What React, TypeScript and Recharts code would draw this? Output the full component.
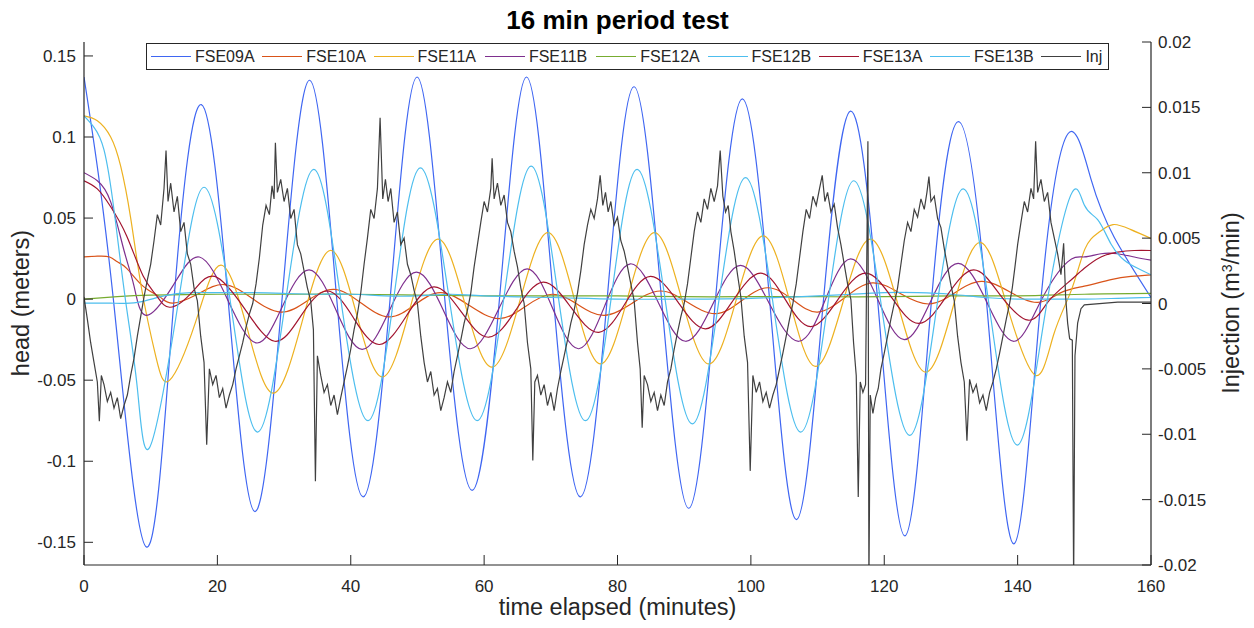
import React from "react";
import { LineChart, Line, XAxis, YAxis, Legend } from "recharts";

const FONT = "'Liberation Sans', Arial, Helvetica, sans-serif";
const AXIS_COLOR = "#262626";

const TIME_TICKS = [0, 20, 40, 60, 80, 100, 120, 140, 160];
const HEAD_TICKS = [-0.15, -0.1, -0.05, 0, 0.05, 0.1, 0.15];
const INJ_TICKS = [-0.02, -0.015, -0.01, -0.005, 0, 0.005, 0.01, 0.015, 0.02];

type Pt = [number, number];

// [time (min), head (m)]
const FSE09A: Pt[] = [
  [0, 0.137], [4.4, 0], [9.4, -0.153], [13.5, 0], [17.6, 0.12], [21.6, 0], [25.6, -0.131], [29.7, 0],
  [33.85, 0.135], [37.9, 0], [41.85, -0.122], [45.9, 0], [49.95, 0.137], [54.1, 0], [58.2, -0.118], [62.3, 0],
  [66.35, 0.137], [70.4, 0], [74.45, -0.122], [78.45, 0], [82.45, 0.131], [86.6, 0], [90.7, -0.129], [94.7, 0],
  [98.7, 0.1235], [102.8, 0], [106.85, -0.136], [110.9, 0], [114.95, 0.116], [119, 0], [123.1, -0.146], [127.1, 0],
  [131.1, 0.1095], [135.3, 0], [139.45, -0.151], [143.5, 0], [147.55, 0.102], [151, 0.074], [154.5, 0.038],
  [160, 0.001],
];

const FSE10A: Pt[] = [
  [0, 0.026], [2, 0.0265], [3.85, 0.026], [5, 0.023], [6.4, 0.019], [8.85, 0.008], [11.35, 0.0014], [13.3, -0.0025],
  [17, 0.003], [21, 0.009], [25.2, 0.0005], [29.5, -0.008], [33.5, -0.001], [37.5, 0.006], [41.6, -0.0025],
  [45.7, -0.011], [49.6, -0.0035], [53.5, 0.004], [57.8, -0.004], [62.2, -0.012], [66.2, -0.0045], [70.2, 0.003],
  [74.1, -0.0035], [78, -0.01], [82.2, -0.0025], [86.4, 0.005], [90.5, -0.002], [94.7, -0.009], [98.6, -0.001],
  [102.5, 0.007], [106.3, -0.0005], [110, -0.008], [114.1, 0.001], [118.2, 0.01], [122.4, 0.0035], [126.7, -0.003],
  [130.6, 0.004], [134.6, 0.011], [138.8, 0.0045], [143, -0.002], [146.5, 0.004], [150, 0.008], [154, 0.012],
  [157, 0.014], [160, 0.015],
];

const FSE11A: Pt[] = [
  [0, 0.113], [2, 0.11], [4, 0.1], [5.5, 0.082], [7, 0.05], [8.7, 0.005], [10.8, -0.036], [12.85, -0.05],
  [16.7, -0.0145], [20.55, 0.021], [24.5, -0.0185], [28.45, -0.058], [32.7, -0.014], [36.9, 0.03], [40.85, -0.009],
  [44.8, -0.048], [48.9, -0.0055], [53.05, 0.037], [57.1, -0.0025], [61.2, -0.042], [65.4, -0.0005], [69.55, 0.041],
  [73.5, 0.0005], [77.45, -0.04], [81.5, 0.0005], [85.55, 0.041], [89.6, 0.0005], [93.7, -0.04], [97.8, -0.0005],
  [101.85, 0.039], [105.8, -0.001], [109.7, -0.0415], [113.8, -0.002], [117.95, 0.037], [122.1, -0.004],
  [126.2, -0.045], [130.3, -0.005], [134.4, 0.035], [138.55, -0.006], [142.7, -0.047], [145.4, -0.022],
  [148.1, 0.006], [150.1, 0.031], [152.1, 0.041], [154.3, 0.046], [156.9, 0.043], [160, 0.0375],
];

const FSE11B: Pt[] = [
  [0, 0.078], [2, 0.073], [4, 0.06], [6, 0.03], [7.5, 0.008], [9.3, -0.01], [13.3, 0.008], [17.3, 0.026],
  [21.5, 0], [25.8, -0.027], [29.7, -0.005], [33.75, 0.018], [37.7, -0.006], [41.7, -0.031], [45.8, -0.007],
  [49.85, 0.0166], [53.9, -0.007], [57.95, -0.0306], [62.2, -0.006], [66.45, 0.0187], [70.3, -0.006],
  [74.2, -0.0306], [78.1, -0.004], [81.95, 0.0218], [86.1, -0.002], [90.2, -0.026], [94.3, -0.003],
  [98.45, 0.0208], [102.8, -0.003], [107.2, -0.026], [111.1, -0.001], [114.95, 0.0248], [119, 0], [123, -0.025],
  [127, -0.001], [131.1, 0.022], [135.4, -0.002], [139.5, -0.026], [143.5, -0.001], [147.5, 0.023], [150, 0.026],
  [152.5, 0.028], [155, 0.028], [157.5, 0.026], [160, 0.024],
];

const FSE12A: Pt[] = [
  [0, 0], [5, 0.0015], [10, 0.0025], [20, 0.003], [30, 0.003], [40, 0.003], [50, 0.0025], [60, 0.002], [70, 0.002],
  [80, 0.002], [90, 0.0015], [100, 0.0015], [110, 0.0015], [120, 0.0015], [130, 0.002], [140, 0.002], [150, 0.003],
  [160, 0.0035],
];

const FSE12B: Pt[] = [
  [0, -0.0025], [4, -0.0025], [8, -0.002], [12, 0.002], [16, 0.004], [20, 0.004], [25, 0.004], [30, 0.0035],
  [35, 0.003], [40, 0.003], [45, 0.002], [50, 0.002], [55, 0.003], [60, 0.002], [70, 0.001], [80, 0], [90, 0],
  [100, 0.0005], [110, 0.002], [115, 0.003], [120, 0.004], [125, 0.004], [130, 0.003], [135, 0.001], [140, 0],
  [145, 0], [150, 0], [155, 0.0005], [160, 0.001],
];

const FSE13A: Pt[] = [
  [0, 0.073], [2, 0.068], [4, 0.057], [6.4, 0.039], [8.85, 0.0144], [10.9, 0.002], [12.9, -0.005], [16.25, 0.0045],
  [19.6, 0.014], [24.1, -0.006], [28.6, -0.026], [32.5, -0.0105], [36.5, 0.005], [40.4, -0.0115], [44.3, -0.028],
  [48.4, -0.01], [52.45, 0.0075], [56.6, -0.008], [60.7, -0.0235], [64.8, -0.0065], [68.85, 0.0105], [73, -0.005],
  [77.2, -0.0205], [81.1, -0.003], [84.95, 0.014], [89.1, -0.002], [93.2, -0.0183], [97.3, -0.001], [101.45, 0.016],
  [105.2, -0.0005], [109, -0.017], [113.1, 0], [117.2, 0.016], [121.2, 0.0005], [125.2, -0.015], [129.3, 0.0015],
  [133.4, 0.018], [137.4, 0.0025], [141.6, -0.013], [144.5, -0.002], [147.5, 0.01], [150, 0.019], [152.5, 0.026],
  [155, 0.029], [157.5, 0.03], [160, 0.03],
];

const FSE13B: Pt[] = [
  [0, 0.113], [1.5, 0.106], [3, 0.092], [4.5, 0.055], [6.2, 0], [8, -0.055], [9.9, -0.091], [14.1, -0.003],
  [18, 0.069], [22, -0.003], [26, -0.082], [30.2, -0.002], [34.45, 0.08], [38.5, 0], [42.6, -0.075], [46.5, 0.002],
  [50.45, 0.081], [54.7, 0.002], [58.95, -0.075], [63, 0.002], [67.05, 0.082], [71.1, 0.002], [75.2, -0.075],
  [79.1, 0.002], [82.95, 0.08], [87.1, 0.001], [91.2, -0.077], [95.2, -0.001], [99.2, 0.075], [103.3, -0.002],
  [107.45, -0.082], [111.5, -0.004], [115.45, 0.073], [119.6, -0.005], [123.8, -0.084], [127.8, -0.007],
  [131.85, 0.068], [135.9, -0.009], [139.95, -0.09], [144, -0.012], [147.95, 0.064], [150, 0.058], [152, 0.049],
  [154, 0.034], [156, 0.024], [158, 0.019], [160, 0.015],
];

// [time (min), injection (m^3/min)]
const INJ: Pt[] = [
  [0, 0.0005], [0.5, -0.0012], [1, -0.003], [1.5, -0.0045], [2, -0.006], [2.3, -0.009], [2.6, -0.0055], [3, -0.0062],
  [3.5, -0.0075], [4, -0.0068], [4.5, -0.008], [5, -0.0072], [5.5, -0.0088], [6, -0.0078], [6.5, -0.007],
  [7, -0.0055], [7.5, -0.0042], [8, -0.0025], [8.5, -0.001],
  [9, 0.0005], [9.5, 0.0018], [10, 0.003], [10.5, 0.0048], [11, 0.0068], [11.5, 0.006], [12, 0.0088],
  [12.3, 0.0117], [12.6, 0.0078], [13, 0.0092], [13.5, 0.007], [14, 0.0082], [14.5, 0.0055], [15, 0.0062],
  [15.5, 0.0038], [16, 0.003], [16.5, 0.0012], [17, 0.0002],
  [17.5, -0.0025], [18, -0.0045], [18.4, -0.0108], [18.8, -0.005], [19.3, -0.0062], [19.8, -0.0055],
  [20.3, -0.0072], [20.8, -0.0065], [21.3, -0.008], [21.8, -0.007], [22.3, -0.0062], [22.8, -0.005],
  [23.3, -0.004], [23.8, -0.003], [24.3, -0.0018], [24.8, -0.0008], [25.3, 0],
  [25.8, 0.0015], [26.3, 0.0035], [26.8, 0.006], [27.3, 0.0075], [27.8, 0.0068], [28.2, 0.009], [28.5, 0.008],
  [28.7, 0.0123], [29, 0.0085], [29.5, 0.0095], [30, 0.0078], [30.5, 0.0088], [31, 0.0065], [31.5, 0.0072],
  [32, 0.0045], [32.5, 0.0038], [33, 0.0025], [33.5, 0.0012], [34, 0.0002],
  [34.4, -0.002], [34.7, -0.0136], [35, -0.004], [35.5, -0.0055], [36, -0.0068], [36.5, -0.0062], [37, -0.0078],
  [37.5, -0.007], [38, -0.0085], [38.5, -0.0072], [39, -0.006], [39.5, -0.0048], [40, -0.0035], [40.5, -0.002],
  [41, -0.0008],
  [41.5, 0.0008], [42, 0.003], [42.5, 0.005], [43, 0.0072], [43.5, 0.0065], [44, 0.0088], [44.4, 0.0142],
  [44.8, 0.008], [45.2, 0.0095], [45.6, 0.0078], [46, 0.0088], [46.5, 0.0062], [47, 0.007], [47.5, 0.0045],
  [48, 0.005], [48.5, 0.003], [49, 0.0022], [49.5, 0.001], [50, 0],
  [50.5, -0.0025], [51, -0.0045], [51.5, -0.006], [52, -0.0052], [52.5, -0.007], [53, -0.0065], [53.5, -0.0082],
  [54, -0.0072], [54.5, -0.006], [55, -0.0068], [55.5, -0.0052], [56, -0.004], [56.5, -0.0028], [57, -0.0015],
  [57.5, -0.0005],
  [58, 0.0008], [58.5, 0.0028], [59, 0.0045], [59.5, 0.0062], [60, 0.0078], [60.5, 0.007], [61, 0.0088],
  [61.2, 0.0111], [61.5, 0.008], [62, 0.0092], [62.5, 0.0075], [63, 0.0083], [63.5, 0.0062], [64, 0.0055],
  [64.5, 0.004], [65, 0.0028], [65.5, 0.0012], [66, 0],
  [66.5, -0.003], [67, -0.005], [67.3, -0.012], [67.6, -0.006], [68, -0.0055], [68.5, -0.007], [69, -0.0062],
  [69.5, -0.0078], [70, -0.0068], [70.5, -0.0082], [71, -0.0065], [71.5, -0.0052], [72, -0.004], [72.5, -0.0028],
  [73, -0.0015], [73.5, -0.0005],
  [74, 0.0008], [74.5, 0.0025], [75, 0.0045], [75.5, 0.006], [76, 0.0072], [76.5, 0.0065], [77, 0.008],
  [77.4, 0.0098], [77.8, 0.0075], [78.2, 0.0085], [78.6, 0.007], [79, 0.0078], [79.5, 0.006], [80, 0.0066],
  [80.5, 0.0048], [81, 0.004], [81.5, 0.0028], [82, 0.0015], [82.5, 0.0002],
  [83, -0.003], [83.4, -0.005], [83.7, -0.0095], [84, -0.0055], [84.5, -0.0062], [85, -0.0075], [85.5, -0.0068],
  [86, -0.0082], [86.5, -0.007], [87, -0.0078], [87.5, -0.006], [88, -0.005], [88.5, -0.0035], [89, -0.0022],
  [89.5, -0.001], [90, 0],
  [90.5, 0.0015], [91, 0.0035], [91.5, 0.0055], [92, 0.007], [92.5, 0.0062], [93, 0.008], [93.5, 0.0072],
  [94, 0.0088], [94.5, 0.0078], [95, 0.009], [95.4, 0.0117], [95.8, 0.0082], [96.2, 0.007], [96.6, 0.0075],
  [97, 0.0055], [97.5, 0.004], [98, 0.0022], [98.5, 0.0005],
  [99, -0.0025], [99.5, -0.0045], [99.9, -0.0128], [100.3, -0.0055], [100.8, -0.0068], [101.3, -0.006],
  [101.8, -0.0075], [102.3, -0.0068], [102.8, -0.008], [103.3, -0.007], [103.8, -0.0062], [104.3, -0.005],
  [104.8, -0.0038], [105.3, -0.0025], [105.8, -0.0012], [106.3, 0],
  [106.8, 0.0015], [107.3, 0.0035], [107.8, 0.0055], [108.3, 0.0072], [108.8, 0.0065], [109.3, 0.0082],
  [109.8, 0.0075], [110.3, 0.0088], [110.7, 0.0098], [111.1, 0.0078], [111.5, 0.0085], [112, 0.007],
  [112.5, 0.0076], [113, 0.0058], [113.5, 0.0045], [114, 0.003], [114.5, 0.0015], [115, 0.0003],
  [115.4, -0.003], [115.8, -0.0055], [116.1, -0.0148], [116.4, -0.006], [116.8, -0.0068], [117.2, -0.0062],
  [117.55, 0.0124], [117.7, -0.0215], [117.9, -0.007], [118.3, -0.0084], [118.7, -0.0072], [119.1, -0.0065],
  [119.5, -0.005], [120, -0.0038], [120.5, -0.0025], [121, -0.0012], [121.5, 0],
  [122, 0.0012], [122.5, 0.003], [123, 0.0048], [123.5, 0.0062], [124, 0.0055], [124.5, 0.0072], [125, 0.0066],
  [125.5, 0.008], [126, 0.0072], [126.4, 0.0085], [126.7, 0.0097], [127, 0.0078], [127.5, 0.0082], [128, 0.0065],
  [128.5, 0.0058], [129, 0.0042], [129.5, 0.0028], [130, 0.0014], [130.5, 0.0002],
  [131, -0.0025], [131.5, -0.0045], [132, -0.006], [132.4, -0.0105], [132.8, -0.0058], [133.3, -0.0068],
  [133.8, -0.0062], [134.3, -0.0076], [134.8, -0.007], [135.3, -0.0082], [135.8, -0.0068], [136.3, -0.006],
  [136.8, -0.005], [137.3, -0.0038], [137.8, -0.0025], [138.3, -0.0012], [138.8, 0],
  [139.2, 0.0012], [139.6, 0.0028], [140, 0.0045], [140.5, 0.0062], [141, 0.0078], [141.5, 0.007], [142, 0.0088],
  [142.4, 0.008], [142.7, 0.0124], [143, 0.0085], [143.5, 0.0095], [144, 0.0078], [144.5, 0.0085], [145, 0.0062],
  [145.5, 0.005], [146, 0.0038], [146.5, 0.0022], [146.9, 0.0046], [147.2, 0.0005], [147.5, -0.0015],
  [147.8, -0.0027], [148.2, -0.0028], [148.4, -0.0215], [148.6, -0.004], [149, -0.0015], [149.5, -0.0004],
  [150, -0.0001], [155, 0.0001], [160, 0.0001],
];

const SERIES_NAMES = ["FSE09A", "FSE10A", "FSE11A", "FSE11B", "FSE12A", "FSE12B", "FSE13A", "FSE13B", "Inj"];
const SERIES_COLORS = ["#3f66f2", "#d95319", "#edb120", "#7e2f8e", "#77ac30", "#4dbeee", "#a2142f", "#4dbeee", "#404040"];
const SERIES_VALUES = [FSE09A, FSE10A, FSE11A, FSE11B, FSE12A, FSE12B, FSE13A, FSE13B, INJ];

const SERIES = SERIES_NAMES.map((name, i) => ({
  name,
  color: SERIES_COLORS[i],
  axis: name === "Inj" ? "inj" : "head",
  data: SERIES_VALUES[i].map(([t, v]) => ({ t, v })),
}));

const fmt = (v: number) => String(v);

const renderLegend = () => (
  <div
    style={{
      position: "relative",
      width: 963,
      height: 27,
      boxSizing: "border-box",
      border: `1px solid ${AXIS_COLOR}`,
      background: "#fff",
      fontFamily: FONT,
    }}
  >
    {SERIES.map((s, i) => (
      <div
        key={s.name}
        style={{
          position: "absolute",
          left: 4 + i * 111.3,
          top: 0,
          height: 25,
          display: "flex",
          alignItems: "center",
        }}
      >
        <div style={{ width: 40, height: 0, borderTop: `1.3px solid ${s.color}` }} />
        <span style={{ marginLeft: 4, fontSize: 16, color: AXIS_COLOR, whiteSpace: "nowrap", lineHeight: "25px" }}>
          {s.name}
        </span>
      </div>
    ))}
  </div>
);

export default function App() {
  const tickStyle = { fontSize: 17, fill: AXIS_COLOR, fontFamily: FONT };
  return (
    <div style={{ position: "absolute", left: 0, top: 0, width: 1254, height: 628, background: "#fff", fontFamily: FONT }}>
      <LineChart width={1254} height={628} margin={{ top: 42, right: 43, bottom: 23, left: 24 }}>
        <XAxis
          xAxisId="t"
          type="number"
          dataKey="t"
          domain={[0, 160]}
          ticks={TIME_TICKS}
          allowDataOverflow
          interval={0}
          height={40}
          tickSize={-10}
          tickMargin={25}
          tick={tickStyle}
          axisLine={{ stroke: AXIS_COLOR, strokeWidth: 1.2 }}
          tickLine={{ stroke: AXIS_COLOR }}
        />
        <YAxis
          yAxisId="head"
          orientation="left"
          type="number"
          domain={[-0.164, 0.1586]}
          ticks={HEAD_TICKS}
          allowDataOverflow
          interval={0}
          width={60}
          tickSize={-9}
          tickMargin={17}
          tick={tickStyle}
          tickFormatter={fmt}
          axisLine={{ stroke: AXIS_COLOR, strokeWidth: 1.2 }}
          tickLine={{ stroke: AXIS_COLOR }}
        />
        <YAxis
          yAxisId="inj"
          orientation="right"
          type="number"
          domain={[-0.02, 0.02]}
          ticks={INJ_TICKS}
          allowDataOverflow
          interval={0}
          width={60}
          tickSize={-9}
          tickMargin={16}
          tick={tickStyle}
          tickFormatter={fmt}
          axisLine={{ stroke: AXIS_COLOR, strokeWidth: 1.2 }}
          tickLine={{ stroke: AXIS_COLOR }}
        />
        {SERIES.map((s) => (
          <Line
            key={s.name}
            data={s.data}
            dataKey="v"
            name={s.name}
            xAxisId="t"
            yAxisId={s.axis}
            type={s.axis === "inj" ? "linear" : "natural"}
            stroke={s.color}
            strokeWidth={1.2}
            dot={false}
            activeDot={false}
            isAnimationActive={false}
          />
        ))}
        <Legend
          layout="vertical"
          verticalAlign="middle"
          align="center"
          content={renderLegend}
          wrapperStyle={{ position: "absolute", left: 146, top: 43, width: 963, height: 27, margin: 0, padding: 0 }}
        />
      </LineChart>
      <div
        style={{
          position: "absolute",
          left: 0,
          top: 20,
          width: 1235,
          textAlign: "center",
          transform: "translateY(-50%)",
          fontSize: 26,
          fontWeight: "bold",
          color: "#000",
          lineHeight: 1,
        }}
      >
        16 min period test
      </div>
      <div
        style={{
          position: "absolute",
          left: 617.5,
          top: 608,
          transform: "translate(-50%, -50%)",
          fontSize: 23.5,
          color: AXIS_COLOR,
          whiteSpace: "nowrap",
          lineHeight: 1,
        }}
      >
        time elapsed (minutes)
      </div>
      <div
        style={{
          position: "absolute",
          left: 22,
          top: 303,
          transform: "translate(-50%, -50%) rotate(-90deg)",
          fontSize: 23.5,
          color: AXIS_COLOR,
          whiteSpace: "nowrap",
          lineHeight: 1,
        }}
      >
        head (meters)
      </div>
      <div
        style={{
          position: "absolute",
          left: 1232,
          top: 303,
          transform: "translate(-50%, -50%) rotate(-90deg)",
          fontSize: 23.5,
          color: AXIS_COLOR,
          whiteSpace: "nowrap",
          lineHeight: 1,
        }}
      >
        Injection (m<sup style={{ fontSize: 14, verticalAlign: "top", lineHeight: 1 }}>3</sup>/min)
      </div>
    </div>
  );
}
